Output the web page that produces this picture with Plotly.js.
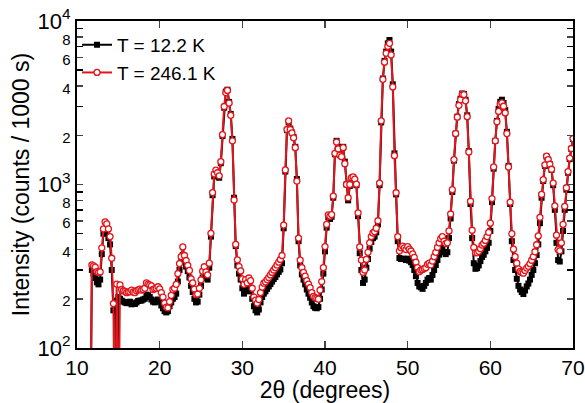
<!DOCTYPE html>
<html>
<head>
<meta charset="utf-8">
<script src="https://cdn.plot.ly/plotly-3.0.1.min.js"></script>
<style>html,body{margin:0;padding:0;background:#fff;}#chart{width:585px;height:403px;}</style>
</head>
<body>
<div id="chart"></div>
<script>
// 2-theta scan grid (degrees)
const twoTheta = [
11.6,11.8,12.0,12.2,12.4,12.6,12.8,13.0,13.2,13.4,
13.6,13.8,14.0,14.2,14.4,14.6,14.8,15.0,15.2,15.4,
15.6,15.8,16.0,16.2,16.4,16.6,16.8,17.0,17.2,17.4,
17.6,17.8,18.0,18.2,18.4,18.6,18.8,19.0,19.2,19.4,
19.6,19.8,20.0,20.2,20.4,20.6,20.8,21.0,21.2,21.4,
21.6,21.8,22.0,22.2,22.4,22.6,22.8,23.0,23.2,23.4,
23.6,23.8,24.0,24.2,24.4,24.6,24.8,25.0,25.2,25.4,
25.6,25.8,26.0,26.2,26.4,26.6,26.8,27.0,27.2,27.4,
27.6,27.8,28.0,28.2,28.4,28.6,28.8,29.0,29.2,29.4,
29.6,29.8,30.0,30.2,30.4,30.6,30.8,31.0,31.2,31.4,
31.6,31.8,32.0,32.2,32.4,32.6,32.8,33.0,33.2,33.4,
33.6,33.8,34.0,34.2,34.4,34.6,34.8,35.0,35.2,35.4,
35.6,35.8,36.0,36.2,36.4,36.6,36.8,37.0,37.2,37.4,
37.6,37.8,38.0,38.2,38.4,38.6,38.8,39.0,39.2,39.4,
39.6,39.8,40.0,40.2,40.4,40.6,40.8,41.0,41.2,41.4,
41.6,41.8,42.0,42.2,42.4,42.6,42.8,43.0,43.2,43.4,
43.6,43.8,44.0,44.2,44.4,44.6,44.8,45.0,45.2,45.4,
45.6,45.8,46.0,46.2,46.4,46.6,46.8,47.0,47.2,47.4,
47.6,47.8,48.0,48.2,48.4,48.6,48.8,49.0,49.2,49.4,
49.6,49.8,50.0,50.2,50.4,50.6,50.8,51.0,51.2,51.4,
51.6,51.8,52.0,52.2,52.4,52.6,52.8,53.0,53.2,53.4,
53.6,53.8,54.0,54.2,54.4,54.6,54.8,55.0,55.2,55.4,
55.6,55.8,56.0,56.2,56.4,56.6,56.8,57.0,57.2,57.4,
57.6,57.8,58.0,58.2,58.4,58.6,58.8,59.0,59.2,59.4,
59.6,59.8,60.0,60.2,60.4,60.6,60.8,61.0,61.2,61.4,
61.6,61.8,62.0,62.2,62.4,62.6,62.8,63.0,63.2,63.4,
63.6,63.8,64.0,64.2,64.4,64.6,64.8,65.0,65.2,65.4,
65.6,65.8,66.0,66.2,66.4,66.6,66.8,67.0,67.2,67.4,
67.6,67.8,68.0,68.2,68.4,68.6,68.8,69.0,69.2,69.4,
69.6,69.8,70.0
];

// Intensity at T = 12.2 K (counts / 1000 s)
const intensity12K = [
20,300,285,268,252,245,262,375,500,515,
505,470,430,300,170,195,20,205,200,195,
192,190,188,190,192,185,188,186,190,194,
195,195,198,200,212,210,205,198,192,190,
195,198,192,182,175,168,165,168,180,190,
200,205,215,255,300,335,370,340,315,295,
270,240,220,200,190,192,212,240,270,290,
268,262,310,480,860,1120,1180,1140,1100,1350,
1980,2950,3700,3800,3200,2700,1900,830,420,320,
285,262,232,215,228,222,236,225,200,180,
170,165,172,190,205,215,222,230,238,246,
255,264,272,282,292,302,330,540,1200,2150,
2400,2200,2080,1950,1700,1080,450,320,282,262,
245,228,215,203,190,180,176,175,178,200,
228,285,390,545,630,615,635,830,1530,1850,
1700,1550,1500,1700,1380,1000,800,980,1080,1100,
1060,990,640,380,300,250,262,310,350,405,
445,470,480,510,570,990,2400,4450,5700,6500,
7300,7650,6500,4100,1550,870,450,355,350,352,
350,345,352,342,335,322,300,275,250,238,
235,230,240,250,262,268,262,280,300,322,
345,372,398,410,385,375,385,470,620,900,
1400,2050,2600,3100,3350,3600,3580,3300,2650,1600,
760,470,330,305,308,320,340,360,372,390,
410,440,520,780,1250,1850,2450,2900,3200,3300,
3150,2850,2100,1300,760,450,345,300,265,240,
228,220,214,225,238,248,262,280,300,330,
370,430,580,830,1050,1300,1480,1420,1330,1230,
990,700,440,345,338,390,520,700,930,1180,
1430,1650,1900
];

// Intensity at T = 246.1 K (counts / 1000 s)
const intensity246K = [
20,322,318,312,293,290,292,410,535,590,
575,535,480,354,187,20,246,20,243,228,
224,222,218,220,221,226,220,218,224,227,
229,226,228,232,250,246,243,240,228,230,
232,237,230,218,205,188,178,176,192,210,
228,232,245,285,328,362,415,368,343,320,
298,265,250,229,212,214,232,261,295,314,
292,280,330,503,892,1160,1225,1180,1130,1380,
2020,3000,3650,3760,3150,2650,1850,804,430,346,
315,296,265,245,262,250,268,258,232,205,
196,188,198,218,236,249,254,262,270,280,
290,300,310,322,335,348,368,565,1227,2170,
2450,2170,2070,1930,1680,1050,470,345,310,290,
275,258,246,234,218,207,203,201,199,226,
255,310,417,570,652,640,655,850,1550,1820,
1650,1510,1480,1680,1340,1000,830,1000,1100,1112,
1080,1005,670,415,345,290,300,348,385,440,
480,505,515,540,600,1020,2450,4400,5600,6350,
7000,7300,6200,3950,1500,890,480,392,410,420,
410,400,417,402,392,376,358,335,310,293,
300,302,306,310,325,330,322,340,362,385,
412,440,466,480,450,435,440,520,660,930,
1420,2050,2580,3050,3300,3560,3550,3250,2600,1580,
790,525,412,382,382,390,405,426,436,455,
480,510,580,820,1280,1850,2420,2800,3100,3160,
3010,2740,2050,1280,780,500,402,362,330,305,
294,290,287,298,308,316,328,344,362,388,
428,485,630,870,1070,1320,1490,1420,1330,1240,
1020,740,490,400,393,440,570,735,955,1200,
1450,1660,1910
];

const seriesNames = ["T = 12.2 K", "T = 246.1 K"];
const xTickVals = [10, 20, 30, 40, 50, 60, 70];
const yTickVals = [100,200,400,600,800,1000,2000,4000,6000,8000,10000];
const yTickText = ["10<sup>2</sup>","<span style='font-size:15px'>2</span>","<span style='font-size:15px'>4</span>","<span style='font-size:15px'>6</span>","<span style='font-size:15px'>8</span>",
  "10<sup>3</sup>","<span style='font-size:15px'>2</span>","<span style='font-size:15px'>4</span>","<span style='font-size:15px'>6</span>","<span style='font-size:15px'>8</span>",
  "10<sup>4</sup>"];
const yMinorTickVals = [300,500,700,900,3000,5000,7000,9000];

const FONT = "Liberation Sans, Arial, Helvetica, sans-serif";

const traces = [
  {
    x: twoTheta, y: intensity12K, name: seriesNames[0],
    type: "scatter", mode: "lines+markers",
    line: {color: "#000000", width: 2},
    marker: {symbol: "square", size: 6, color: "#000000"}
  },
  {
    x: twoTheta, y: intensity246K, name: seriesNames[1],
    type: "scatter", mode: "lines+markers",
    line: {color: "#e3151b", width: 2},
    marker: {symbol: "circle", size: 6, color: "#ffffff", line: {color: "#e3151b", width: 1.3}}
  }
];

const layout = {
  width: 585, height: 403,
  margin: {l: 77, r: 12, t: 21, b: 55},
  paper_bgcolor: "#ffffff", plot_bgcolor: "#ffffff",
  font: {family: FONT, color: "#000000", size: 19},
  showlegend: true,
  legend: {x: 0.0, y: 0.985, xanchor: "left", yanchor: "top",
           bgcolor: "rgba(0,0,0,0)", font: {family: FONT, size: 19, color: "#000"},
           itemwidth: 30, tracegroupgap: 0},
  xaxis: {
    range: [10, 70], tickvals: xTickVals, ticks: "inside", ticklen: 7, tickwidth: 1.5,
    showline: true, linewidth: 2, linecolor: "#000", mirror: "allticks",
    showgrid: false, zeroline: false,
    tickfont: {family: FONT, size: 21},
    title: {text: "2θ (degrees)", font: {family: FONT, size: 23}, standoff: 2}
  },
  yaxis: {
    type: "log", range: [2, 4], tickmode: "array", tickvals: yTickVals, ticktext: yTickText,
    ticks: "inside", ticklen: 6, tickwidth: 1.5,
    minor: {tickmode: "array", tickvals: yMinorTickVals, ticks: "inside", ticklen: 6, tickwidth: 1.5, tickcolor: "#000", showgrid: false},
    showline: true, linewidth: 2, linecolor: "#000", mirror: "allticks",
    showgrid: false, zeroline: false,
    tickfont: {family: FONT, size: 22},
    title: {text: "Intensity (counts / 1000 s)", font: {family: FONT, size: 23}, standoff: 2}
  }
};

Plotly.newPlot("chart", traces, layout, {staticPlot: true, displayModeBar: false});
</script>
</body>
</html>
